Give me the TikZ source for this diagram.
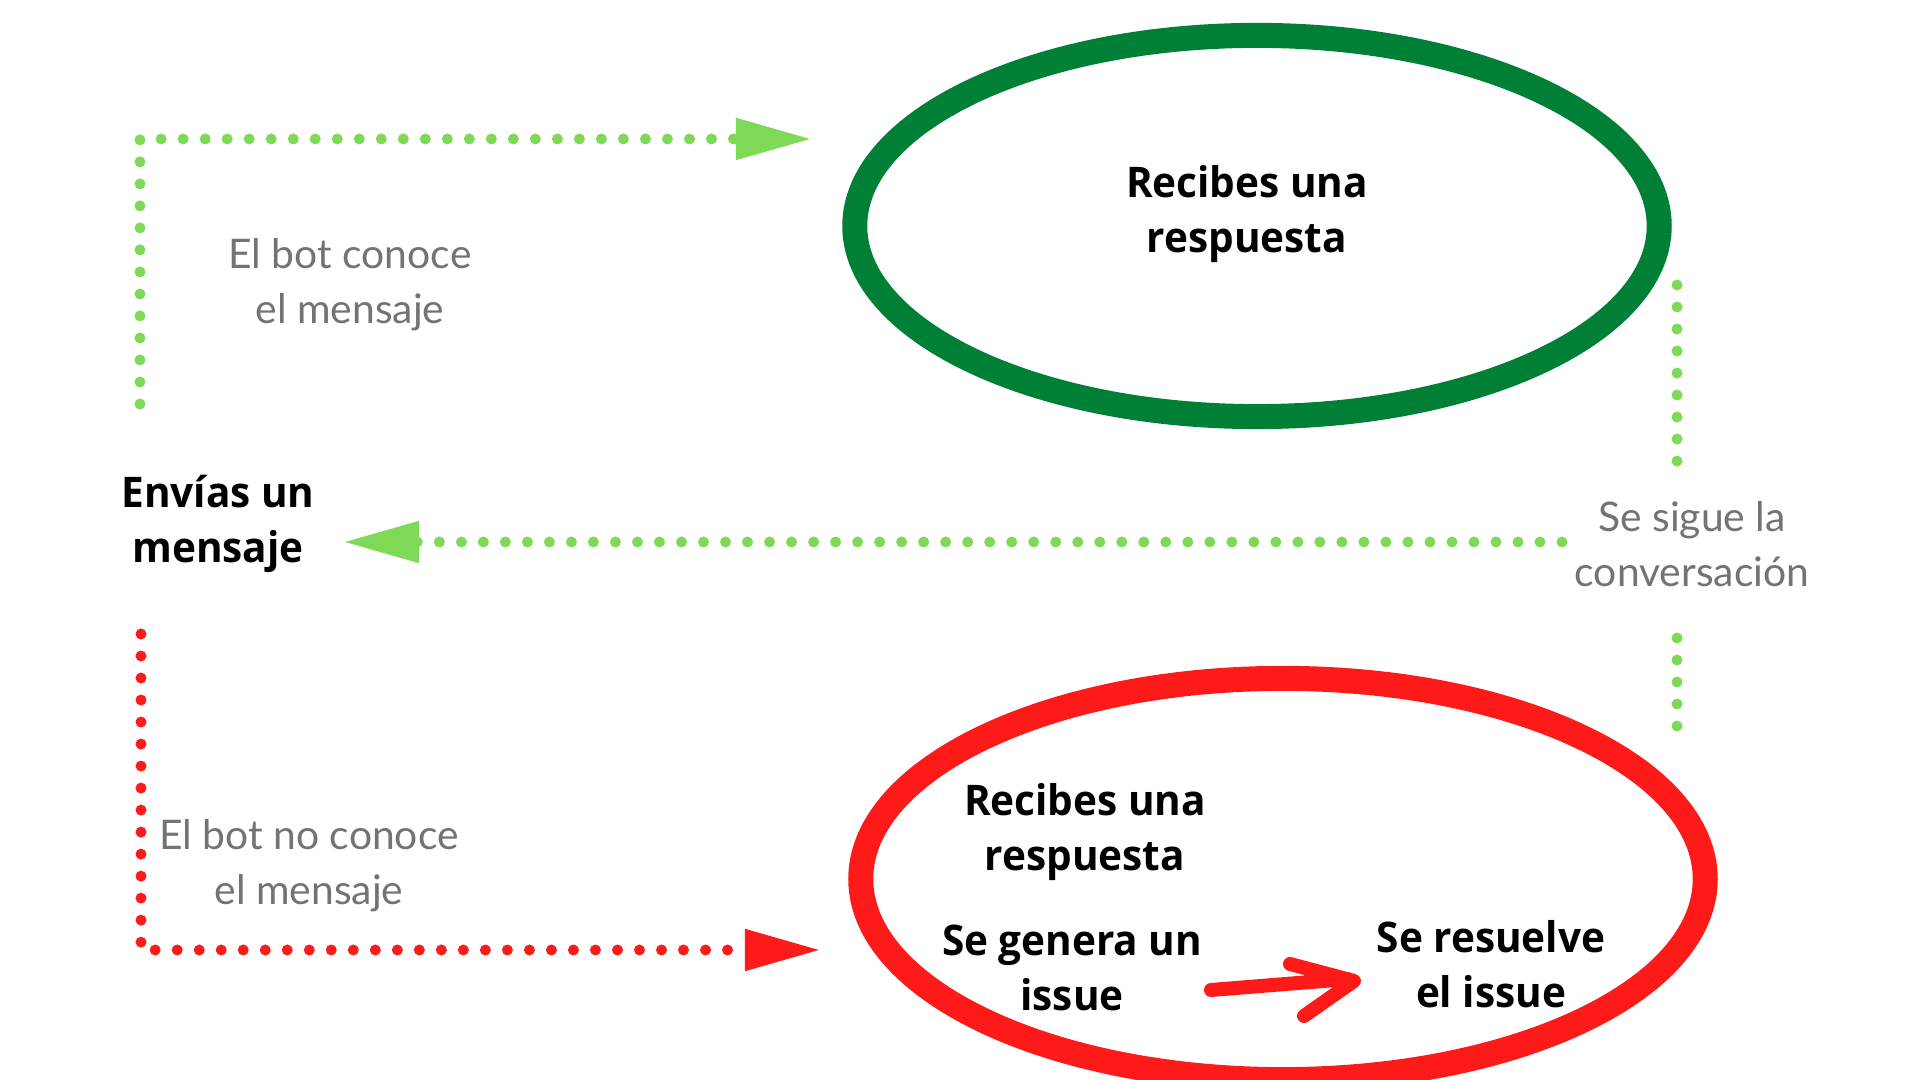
\documentclass[tikz,border=0pt]{standalone}
\usepackage{fontspec}
\usetikzlibrary{arrows.meta,shapes.geometric}
\newfontfamily\boldsans[FakeStretch=0.96]{Open Sans}
\newfontfamily\lightsans{Lato}
\definecolor{dgreen}{HTML}{008037}
\definecolor{lgreen}{HTML}{7ED957}
\definecolor{rred}{HTML}{FF1A1A}
\definecolor{tgray}{HTML}{737373}

\begin{document}
\begin{tikzpicture}[x=0.01cm,y=-0.01cm,
	ring/.style={draw=#1,ellipse,line width=0.25cm,inner sep=0pt},
	btext/.style={align=center,font=\boldsans\bfseries\fontsize{12}{15.5}\selectfont},
	gtext/.style={align=center,text=tgray,font=\lightsans\fontsize{11.6}{15.6}\selectfont},
	dotline/.style={draw=#1,line width=0.11cm,line cap=round,dash pattern=on 0pt off 0.22cm},
	triarrow/.style={-{Triangle[length=0.76cm,width=0.39cm]}}]
	\useasboundingbox (0,0) rectangle (1920,1080);
	\node[ring=dgreen,minimum width=8.04cm,minimum height=3.81cm] (e1) at (1257,226) {};
	\node[ring=rred,minimum width=8.44cm,minimum height=4.01cm] (e2) at (1283,879) {};
	\node[btext] (t1) at (1247,214) {Recibes una\\respuesta};
	\node[btext] (t2) at (218,524) {Envías un\\mensaje};
	\node[gtext] (t3) at (350,285) {El bot conoce\\el mensaje};
	\node[gtext] (t4) at (1692,544) {Se sigue la\\conversación};
	\node[gtext] (t5) at (309,866) {El bot no conoce\\el mensaje};
	\node[btext] (t6) at (1085,832) {Recibes una\\respuesta};
	\node[btext] (t7) at (1072,968) {Se genera un\\issue};
	\node[btext] (t8) at (1491,964) {Se resuelve\\el issue};
	\coordinate (c1) at (140,404);
	\coordinate (c2) at (812,139);
	\coordinate (c3) at (1562,542);
	\coordinate (c4) at (343,542);
	\coordinate (c5) at (1677,285);
	\coordinate (c6) at (1677,467);
	\coordinate (c7) at (1677,638);
	\coordinate (c8) at (1677,728);
	\coordinate (c9) at (141,634);
	\coordinate (c10) at (821,950);
	\coordinate (a1) at (1211,990);
	\coordinate (a2) at (1348,979);
	\coordinate (a3) at (1290,964);
	\coordinate (a4) at (1354,981);
	\coordinate (a5) at (1304,1016);
	\draw[dotline=lgreen,triarrow] (c1) |- (c2);
	\draw[dotline=lgreen,triarrow] (c3) -- (c4);
	\draw[dotline=lgreen] (c5) -- (c6);
	\draw[dotline=lgreen] (c7) -- (c8);
	\draw[dotline=rred,triarrow] (c9) |- (c10);
	\draw[rred,line width=0.14cm,line cap=round,line join=round]
	(a1) .. controls (1280,985) .. (a2)
	(a3) -- (a4) -- (a5);
\end{tikzpicture}
\end{document}
